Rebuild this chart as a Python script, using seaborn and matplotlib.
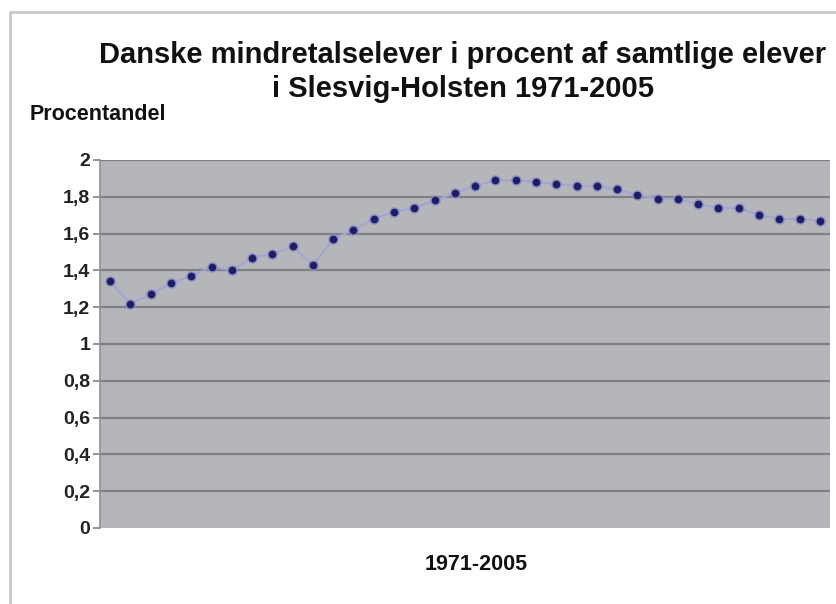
import matplotlib
matplotlib.use("Agg")
import matplotlib.pyplot as plt
import seaborn as sns
import pandas as pd
from matplotlib.lines import Line2D

years = [1970, 1971, 1972, 1973, 1974, 1975, 1976, 1977, 1978, 1979,
         1980, 1981, 1982, 1983, 1984, 1985, 1986, 1987, 1988, 1989,
         1990, 1991, 1992, 1993, 1994, 1995, 1996, 1997, 1998, 1999,
         2000, 2001, 2002, 2003, 2004, 2005]
percent = [1.34, 1.22, 1.27, 1.33, 1.37, 1.42, 1.40, 1.47, 1.49, 1.53,
           1.43, 1.57, 1.62, 1.68, 1.72, 1.74, 1.78, 1.82, 1.86, 1.89,
           1.89, 1.88, 1.87, 1.86, 1.86, 1.84, 1.81, 1.79, 1.79, 1.76,
           1.74, 1.74, 1.70, 1.68, 1.68, 1.67]
yticks = [0, 0.2, 0.4, 0.6, 0.8, 1, 1.2, 1.4, 1.6, 1.8, 2]
ytick_labels = ["0", "0,2", "0,4", "0,6", "0,8", "1", "1,2", "1,4", "1,6", "1,8", "2"]
title = "Danske mindretalselever i procent af samtlige elever\ni Slesvig-Holsten 1971-2005"
ylabel = "Procentandel"
xlabel = "1971-2005"

df = pd.DataFrame({"year": years, "percent": percent})

sns.set_theme(style="white")
plt.rcParams["font.family"] = ["Liberation Sans", "DejaVu Sans"]

fig = plt.figure(figsize=(8.36, 6.04), dpi=100)
ax = fig.add_axes([100 / 836, 1 - 528 / 604, 730 / 836, 368 / 604])
ax.set_facecolor("#B4B6B9")

for y in yticks[1:]:
    ax.axhline(y, color="#7E8084", lw=1.6, zorder=1)

sns.lineplot(data=df, x="year", y="percent", ax=ax, color="#A4A4D4", lw=1.5,
             marker="o", markersize=6.5, markerfacecolor="#1E1E62",
             markeredgecolor="#8A8AC8", markeredgewidth=1.0, zorder=3)

ax.set_xlim(years[0] - 0.5, years[-1] + 0.5)
ax.set_ylim(0, 2)
ax.set_xticks([])
ax.set_yticks(yticks)
ax.set_yticklabels(ytick_labels, fontsize=14, fontweight="bold", color="#222222")
ax.tick_params(axis="y", which="major", left=True, length=5, width=1.2,
               color="#7E8084", pad=2)
ax.set_xlabel("")
ax.set_ylabel("")
for s in ["top", "right", "bottom"]:
    ax.spines[s].set_visible(False)
ax.spines["left"].set_color("#8E9094")
ax.spines["left"].set_linewidth(1.2)

fig.text(463 / 836, 1 - 72 / 604, title, ha="center", va="center",
         fontsize=21, fontweight="bold", linespacing=1.25, color="#111111")
fig.text(30 / 836, 1 - 115 / 604, ylabel, ha="left", va="center",
         fontsize=15.5, fontweight="bold", color="#111111")
fig.text(476 / 836, 1 - 565 / 604, xlabel, ha="center", va="center",
         fontsize=15.5, fontweight="bold", color="#111111")

fig.add_artist(Line2D([10 / 836, 10 / 836], [0, 1 - 12 / 604],
                      transform=fig.transFigure, color="#C8C8C8", lw=2))
fig.add_artist(Line2D([10 / 836, 1], [1 - 12 / 604, 1 - 12 / 604],
                      transform=fig.transFigure, color="#C8C8C8", lw=2))

fig.savefig("out.png", dpi=100, facecolor="white")
